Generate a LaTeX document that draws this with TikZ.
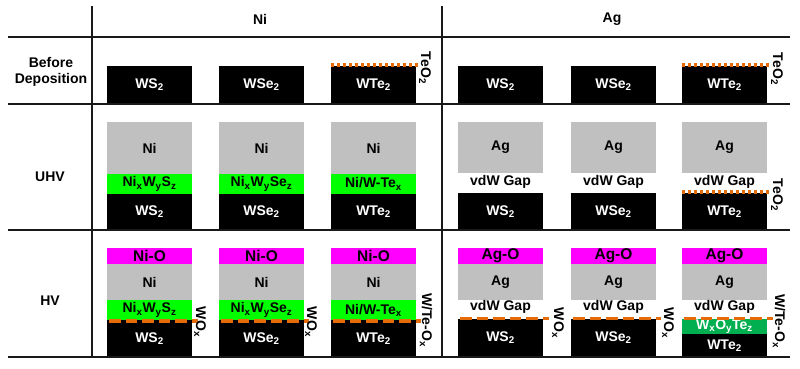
\documentclass[tikz,border=0pt]{standalone}
\usepackage{fontspec}
\setmainfont{Liberation Sans}
\definecolor{laygray}{RGB}{192,192,192}
\definecolor{laygreen}{RGB}{0,255,0}
\definecolor{laymag}{RGB}{255,0,255}
\definecolor{laydkgreen}{RGB}{0,176,80}
\definecolor{layorange}{RGB}{228,108,10}
\newcommand\lbl{\fontsize{14}{16}\selectfont\bfseries}
\newcommand\lblox{\fontsize{15.5}{16}\selectfont\bfseries}
\newcommand\lyr[6]{\node[#1, minimum height={(#5-#4)*1pt}] (#2) at (#3,#4) {#6};}
\begin{document}
\begin{tikzpicture}[x=1pt,y=-1pt,
  lay/.style={anchor=north west, inner sep=0pt, outer sep=0pt, minimum width=85pt, font=\lbl, text=black},
  blk/.style={lay, fill=black, text=white},
  gry/.style={lay, fill=laygray},
  grn/.style={lay, fill=laygreen},
  mag/.style={lay, fill=laymag, font=\lblox},
  dgrn/.style={lay, fill=laydkgreen, text=white},
  gridline/.style={line width=1.5pt, black!90},
  dots/.style={layorange, line width=3.5pt, dash pattern=on 3.2pt off 2.8pt},
  dashes/.style={layorange, line width=3.5pt, dash pattern=on 11.5pt off 5pt},
  side/.style={rotate=-90, font=\lbl, inner sep=0pt},
  txt/.style={font=\lbl, inner sep=0pt, align=center}]
\useasboundingbox (0,0) rectangle (800,368);
% headers
\node[txt] (hNi) at (260,19) {Ni};
\node[txt] (hAg) at (612,19) {Ag};
\node[txt] (rBefore) at (51,72) {Before\\Deposition};
\node[txt] (rUHV) at (50,177) {UHV};
\node[txt] (rHV) at (50,301) {HV};
% ---------- Before deposition ----------
\lyr{blk}{bA}{107}{66}{104}{WS\textsubscript{2}}
\lyr{blk}{bB}{219}{66}{104}{WSe\textsubscript{2}}
\lyr{blk}{bC}{331}{66}{104}{WTe\textsubscript{2}}
\lyr{blk}{bD}{458}{66}{104}{WS\textsubscript{2}}
\lyr{blk}{bE}{571}{66}{104}{WSe\textsubscript{2}}
\lyr{blk}{bF}{682}{66}{104}{WTe\textsubscript{2}}
\coordinate (bCe) at (418,65);
\coordinate (bFe) at (771,65);
\draw[dots] (bC.north west) ++(0,-1) -- (bCe);
\draw[dots] (bF.north west) ++(0,-1) -- (bFe);
\node[side] (bCl) at (425,68) {TeO\textsubscript{2}};
\node[side] (bFl) at (777,69) {TeO\textsubscript{2}};
% ---------- UHV ----------
\lyr{gry}{uA1}{107}{122}{174}{Ni}
\lyr{grn}{uA2}{107}{174}{194}{Ni\textsubscript{x}W\textsubscript{y}S\textsubscript{z}}
\lyr{blk}{uA3}{107}{194}{230}{WS\textsubscript{2}}
\lyr{gry}{uB1}{219}{122}{174}{Ni}
\lyr{grn}{uB2}{219}{174}{194}{Ni\textsubscript{x}W\textsubscript{y}Se\textsubscript{z}}
\lyr{blk}{uB3}{219}{194}{230}{WSe\textsubscript{2}}
\lyr{gry}{uC1}{331}{122}{174}{Ni}
\lyr{grn}{uC2}{331}{174}{194}{Ni/W-Te\textsubscript{x}}
\lyr{blk}{uC3}{331}{194}{230}{WTe\textsubscript{2}}
\lyr{gry}{uD1}{458}{122}{173}{Ag}
\lyr{blk}{uD3}{458}{193}{230}{WS\textsubscript{2}}
\lyr{gry}{uE1}{571}{122}{173}{Ag}
\lyr{blk}{uE3}{571}{193}{230}{WSe\textsubscript{2}}
\lyr{gry}{uF1}{682}{122}{173}{Ag}
\lyr{blk}{uF3}{682}{193}{230}{WTe\textsubscript{2}}
\node[txt] (uDg) at (500.5,182) {vdW Gap};
\node[txt] (uEg) at (613.5,182) {vdW Gap};
\node[txt] (uFg) at (724.5,182) {vdW Gap};
\coordinate (uFe) at (771,192);
\draw[dots] (uF3.north west) ++(0,-1) -- (uFe);
\node[side] (uFl) at (777,195) {TeO\textsubscript{2}};
% ---------- HV ----------
\lyr{mag}{hA0}{107}{248}{264}{Ni-O}
\lyr{gry}{hA1}{107}{264}{300}{Ni}
\lyr{grn}{hA2}{107}{300}{320}{Ni\textsubscript{x}W\textsubscript{y}S\textsubscript{z}}
\lyr{blk}{hA3}{107}{320}{357}{WS\textsubscript{2}}
\lyr{mag}{hB0}{219}{248}{264}{Ni-O}
\lyr{gry}{hB1}{219}{264}{300}{Ni}
\lyr{grn}{hB2}{219}{300}{320}{Ni\textsubscript{x}W\textsubscript{y}Se\textsubscript{z}}
\lyr{blk}{hB3}{219}{320}{357}{WSe\textsubscript{2}}
\lyr{mag}{hC0}{331}{248}{264}{Ni-O}
\lyr{gry}{hC1}{331}{264}{300}{Ni}
\lyr{grn}{hC2}{331}{300}{320}{Ni/W-Te\textsubscript{x}}
\lyr{blk}{hC3}{331}{320}{357}{WTe\textsubscript{2}}
\lyr{mag}{hD0}{458}{248}{264}{Ag-O}
\lyr{gry}{hD1}{458}{264}{300}{Ag}
\lyr{blk}{hD3}{458}{319}{357}{WS\textsubscript{2}}
\lyr{mag}{hE0}{571}{248}{264}{Ag-O}
\lyr{gry}{hE1}{571}{264}{300}{Ag}
\lyr{blk}{hE3}{571}{319}{357}{WSe\textsubscript{2}}
\lyr{mag}{hF0}{682}{248}{264}{Ag-O}
\lyr{gry}{hF1}{682}{264}{300}{Ag}
\lyr{dgrn}{hF2}{682}{319}{334}{W\textsubscript{x}O\textsubscript{y}Te\textsubscript{z}}
\lyr{blk}{hF3}{682}{334}{357}{WTe\textsubscript{2}}
\node[txt] (hDg) at (500.5,307) {vdW Gap};
\node[txt] (hEg) at (613.5,307) {vdW Gap};
\node[txt] (hFg) at (724.5,307) {vdW Gap};
\coordinate (hAe) at (198,321);
\coordinate (hBe) at (309,321);
\coordinate (hCe) at (421,321);
\coordinate (hDe) at (549,318.5);
\coordinate (hEe) at (661,318.5);
\coordinate (hFe) at (773,318.5);
\draw[dashes] (hA3.north west) ++(2,1) -- (hAe);
\draw[dashes] (hB3.north west) ++(2,1) -- (hBe);
\draw[dashes] (hC3.north west) ++(2,1) -- (hCe);
\draw[dashes] (hD3.north west) ++(2,-0.5) -- (hDe);
\draw[dashes] (hE3.north west) ++(2,-0.5) -- (hEe);
\draw[dashes] (hF2.north west) ++(2,-0.5) -- (hFe);
\node[side] (hAl) at (200,322) {WO\textsubscript{x}};
\node[side] (hBl) at (311,322) {WO\textsubscript{x}};
\node[side] (hCl) at (426,320) {W/Te-O\textsubscript{x}};
\node[side] (hDl) at (558,323) {WO\textsubscript{x}};
\node[side] (hEl) at (668,323) {WO\textsubscript{x}};
\node[side] (hFl) at (779,321) {W/Te-O\textsubscript{x}};
% ---------- grid ----------
\draw[gridline] (8,37) -- (790,37);
\draw[gridline] (8,104) -- (790,104);
\draw[gridline] (8,230) -- (790,230);
\draw[gridline] (8,357) -- (790,357);
\draw[gridline] (92,6) -- (92,358);
\draw[gridline] (442,6) -- (442,358);
\end{tikzpicture}
\end{document}
